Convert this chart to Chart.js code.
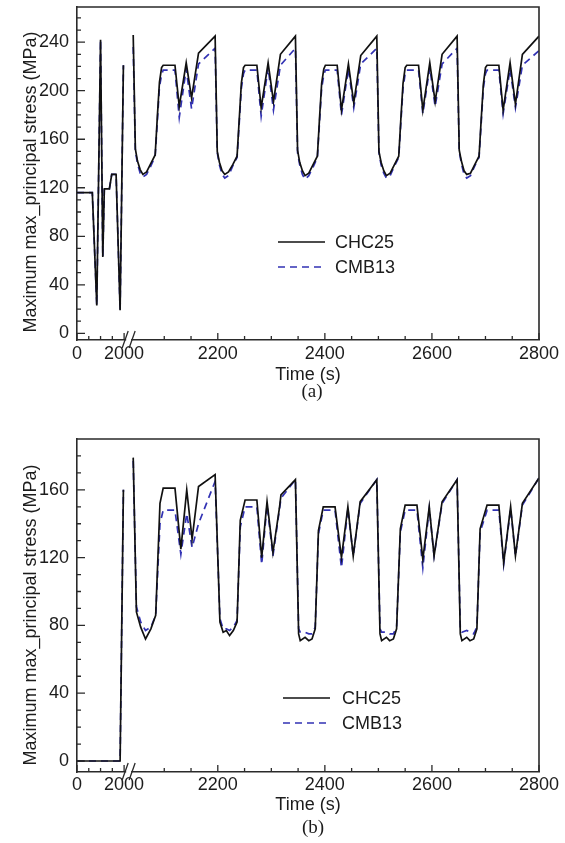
<!DOCTYPE html>
<html>
<head>
<meta charset="utf-8">
<script src="https://cdn.jsdelivr.net/npm/chart.js@4/dist/chart.umd.min.js"></script>
<style>
  body { margin: 0; background: #fff; width: 565px; height: 843px; overflow: hidden; position: relative; }
  canvas { position: absolute; left: 0; }
  #chartA { top: 0; }
  #chartB { top: 415px; }
</style>
</head>
<body>
<canvas id="chartA" width="565" height="410"></canvas>
<canvas id="chartB" width="565" height="428"></canvas>
<script>
// ---- data (times in s, stress in MPa) ----

// start-up phase, 0..2000 s, drawn compressed on the left of the axis break
const aStartupTimes = [0, 650, 840, 1000, 1095, 1160, 1375, 1475, 1660, 1830, 1970]
const aStartupCHC25 = [116, 116, 23, 242, 63, 119, 119, 131, 131, 19, 221]
const aStartupCMB13 = [116, 116, 23, 242, 63, 119, 119, 131, 131, 19, 221]

// cyclic part, panel (a)
const aCycleTimes = [
    2042, 2046, 2050, 2055, 2060, 2067, 2075, 2083, 2087, 2091, 2095, 2098, 2120, 2128, 2141, 2151, 2164,
    2195, 2199, 2203, 2208, 2213, 2220, 2228, 2236, 2240, 2244, 2248, 2251, 2273, 2281, 2294, 2304, 2317,
    2345, 2349, 2353, 2358, 2363, 2370, 2378, 2386, 2390, 2394, 2398, 2401, 2423, 2431, 2444, 2454, 2467,
    2497, 2501, 2505, 2510, 2515, 2522, 2530, 2538, 2542, 2546, 2550, 2553, 2575, 2583, 2596, 2606, 2619,
    2647, 2651, 2655, 2660, 2665, 2672, 2680, 2688, 2692, 2696, 2700, 2703, 2725, 2733, 2746, 2756, 2769,
    2800]
const aCHC25 = [
    246, 152, 142, 135, 131, 133, 140, 147, 178, 207, 219, 221, 221, 187, 223, 194, 231,
    245, 150, 141, 134, 131, 133, 139, 146, 176, 206, 219, 221, 221, 186, 223, 191, 230,
    245, 151, 141, 134, 130, 132, 139, 146, 177, 206, 218, 221, 221, 184, 222, 190, 229,
    245, 150, 141, 134, 130, 132, 139, 146, 177, 206, 219, 221, 221, 184, 223, 191, 230,
    245, 151, 142, 134, 131, 132, 139, 146, 176, 205, 219, 221, 221, 184, 223, 189, 230,
    245]
const aCMB13 = [
    236, 150, 140, 132, 129, 131, 138, 146, 174, 203, 213, 217, 217, 178, 218, 185, 222,
    235, 149, 139, 131, 128, 130, 138, 145, 173, 202, 214, 217, 217, 179, 219, 184, 221,
    235, 149, 139, 131, 127, 130, 137, 145, 174, 202, 213, 217, 217, 180, 218, 186, 222,
    235, 149, 139, 132, 128, 130, 138, 145, 174, 202, 214, 217, 217, 181, 219, 187, 222,
    235, 150, 140, 131, 128, 130, 138, 145, 173, 202, 214, 217, 217, 181, 218, 186, 221,
    233]

// panel (b)
const bStartupTimes = [0, 1830, 1970]
const bStartupCHC25 = [0, 0, 160]
const bStartupCMB13 = [0, 0, 160]

const bCycleTimes = [
    2042, 2048, 2056, 2065, 2075, 2084, 2092, 2098, 2120, 2131, 2142, 2152, 2164,
    2195, 2204, 2210, 2216, 2222, 2229, 2236, 2242, 2251, 2273, 2282, 2292, 2303, 2315, 2318,
    2345, 2351, 2354, 2363, 2370, 2376, 2382, 2388, 2397, 2419, 2431, 2443, 2453, 2466,
    2497, 2503, 2506, 2515, 2521, 2528, 2534, 2541, 2550, 2572, 2583, 2595, 2604, 2619,
    2647, 2653, 2656, 2665, 2671, 2678, 2684, 2690, 2703, 2725, 2734, 2747, 2756, 2769,
    2800]
const bCHC25 = [
    179, 88, 79, 72, 78, 86, 152, 161, 161, 125, 160, 131, 162,
    169, 82, 76, 77, 74, 77, 82, 142, 154, 154, 120, 153, 123, 149, 157,
    166, 75, 71, 73, 71, 72, 78, 136, 150, 150, 120, 150, 121, 153,
    166, 75, 71, 73, 71, 72, 78, 137, 151, 151, 119, 150, 121, 153,
    166, 75, 71, 73, 71, 72, 78, 137, 151, 151, 117, 150, 121, 152,
    167]
const bCMB13 = [
    177, 91, 82, 77, 79, 86, 140, 148, 148, 122, 146, 126, 140,
    165, 84, 78, 78, 77, 79, 83, 138, 150, 150, 116, 151, 121, 148, 155,
    166, 78, 76, 76, 75, 75, 79, 134, 148, 148, 114, 149, 121, 152,
    166, 78, 76, 76, 75, 75, 79, 135, 148, 148, 114, 149, 121, 152,
    166, 78, 76, 77, 76, 75, 79, 135, 148, 148, 116, 149, 121, 151,
    167]

// ticks
const xTickLabels = ["0", "2000", "2200", "2400", "2600", "2800"]
const xMinorStartup = [500, 1000, 1500]
const xMinorCycle = [2100, 2150, 2250, 2300, 2350, 2450, 2500, 2550, 2650, 2700, 2750]
const yTicksA = [0, 40, 80, 120, 160, 200, 240]
const yTicksB = [0, 40, 80, 120, 160]

// ---- broken axis ----
// The axis runs in cycle seconds; the 0..2000 s start-up is squeezed into AXIS_MIN..STARTUP_AXIS_END.
const AXIS_MIN = 1937
const AXIS_MAX = 2800
const STARTUP_END = 2000
const STARTUP_AXIS_END = 2025
const startupPos = t => AXIS_MIN + t / STARTUP_END * (STARTUP_AXIS_END - AXIS_MIN)

const xMajorPos = [startupPos(0), startupPos(2000), 2200, 2400, 2600, 2800]
const xMinorPos = xMinorStartup.map(startupPos).concat(xMinorCycle)

const FONT = "'Liberation Sans', Arial, sans-serif"
const TEXT = "#1c1c1c"
const AXIS = "#2a2a2a"

function buildSeries(startT, startV, cycT, cycV) {
    let pts = startT.map((t, i) => ({ x: startupPos(t), y: startV[i] }))
    // gap across the break
    pts.push({ x: (startupPos(startT[startT.length - 1]) + cycT[0]) / 2, y: null })
    cycT.forEach((t, i) => pts.push({ x: t, y: cycV[i] }))
    return pts
}

//Draws frame, inward ticks, axis break, legend, y title and caption.
const decorPlugin = {
    id: "decor",
    afterDraw(chart, args, o) {
        const { ctx, chartArea: a } = chart
        const x = chart.scales.x, y = chart.scales.y
        ctx.save()
        ctx.strokeStyle = AXIS
        ctx.lineWidth = 1.6
        ctx.beginPath()
        ctx.moveTo(a.left, a.top)
        ctx.lineTo(a.right, a.top)
        ctx.lineTo(a.right, a.bottom)
        ctx.stroke()

        ctx.lineWidth = 1.3
        ctx.beginPath()
        for (let v of xMajorPos) {
            let px = x.getPixelForValue(v)
            ctx.moveTo(px, a.bottom); ctx.lineTo(px, a.bottom - 7)
        }
        for (let v of xMinorPos) {
            let px = x.getPixelForValue(v)
            ctx.moveTo(px, a.bottom); ctx.lineTo(px, a.bottom - 4)
        }
        for (let v of o.yMajor) {
            let py = y.getPixelForValue(v)
            ctx.moveTo(a.left, py); ctx.lineTo(a.left + 8, py)
        }
        for (let v = 10; v < y.max; v += 10) {
            if (o.yMajor.includes(v)) continue
            let py = y.getPixelForValue(v)
            ctx.moveTo(a.left, py); ctx.lineTo(a.left + 4, py)
        }
        ctx.stroke()

        // axis break  //
        let b0 = x.getPixelForValue(2027), b1 = x.getPixelForValue(2040)
        ctx.fillStyle = "#fff"
        ctx.fillRect(b0 + 1, a.bottom - 2, b1 - b0 - 2, 4)
        ctx.beginPath()
        for (let bx of [b0, b1]) {
            ctx.moveTo(bx - 3, a.bottom + 8)
            ctx.lineTo(bx + 3, a.bottom - 9)
        }
        ctx.stroke()

        // legend
        const L = o.legend
        ctx.font = "18px " + FONT
        ctx.textBaseline = "middle"
        ctx.textAlign = "left"
        chart.data.datasets.forEach((ds, i) => {
            ctx.strokeStyle = ds.borderColor
            ctx.lineWidth = ds.borderWidth
            ctx.setLineDash(ds.borderDash || [])
            ctx.beginPath()
            ctx.moveTo(L.x0, L.ys[i]); ctx.lineTo(L.x1, L.ys[i])
            ctx.stroke()
            ctx.setLineDash([])
            ctx.fillStyle = TEXT
            ctx.fillText(ds.label, L.textX, L.ys[i] + 1)
        })

        // y title
        ctx.save()
        ctx.translate(o.yTitle.x, o.yTitle.y)
        ctx.rotate(-Math.PI / 2)
        ctx.textAlign = "center"
        ctx.textBaseline = "alphabetic"
        ctx.fillText("Maximum max_principal stress (MPa)", 0, 0)
        ctx.restore()

        // caption
        ctx.font = "19px 'Liberation Serif', 'Times New Roman', serif"
        ctx.textAlign = "center"
        ctx.textBaseline = "middle"
        ctx.fillText(o.caption.text, o.caption.x, o.caption.y)
        ctx.restore()
    }
}

function makeChart(id, p) {
    const ctx = document.getElementById(id).getContext("2d")
    return new Chart(ctx, {
        type: "line",
        data: {
            datasets: [
                { label: "CHC25", data: p.chc, borderColor: "#111111", borderWidth: 1.7, pointRadius: 0, tension: 0, spanGaps: false },
                { label: "CMB13", data: p.cmb, borderColor: "#3232b4", borderWidth: 1.7, borderDash: [7, 5], pointRadius: 0, tension: 0, spanGaps: false }
            ]
        },
        options: {
            responsive: false,
            animation: false,
            layout: { padding: { top: p.top, right: 26, left: 0, bottom: 0 } },
            scales: {
                x: {
                    type: "linear", min: AXIS_MIN, max: AXIS_MAX,
                    grid: { display: false, drawTicks: false },
                    border: { display: true, color: AXIS, width: 1.6 },
                    afterBuildTicks: ax => { ax.ticks = xMajorPos.map(v => ({ value: v })) },
                    afterFit: s => { s.height = p.xHeight; s.paddingLeft = 0; s.paddingRight = 0 },
                    ticks: {
                        autoSkip: false, maxRotation: 0, padding: p.xTickPad, color: TEXT,
                        font: { family: FONT, size: 18 },
                        callback: (v, i) => xTickLabels[i]
                    },
                    title: {
                        display: true, text: "Time (s)", color: TEXT,
                        font: { family: FONT, size: 18 },
                        padding: { top: 0, bottom: p.xTitlePad }
                    }
                },
                y: {
                    type: "linear", min: p.ymin, max: p.ymax,
                    grid: { display: false, drawTicks: false },
                    border: { display: true, color: AXIS, width: 1.6 },
                    afterBuildTicks: ax => { ax.ticks = p.yTicks.map(v => ({ value: v })) },
                    afterFit: s => { s.width = 77; s.paddingTop = 0; s.paddingBottom = 0 },
                    ticks: { padding: 8, color: TEXT, font: { family: FONT, size: 18 } }
                }
            },
            plugins: {
                legend: { display: false },
                tooltip: { enabled: false },
                decor: {
                    yMajor: p.yTicks,
                    legend: p.legend,
                    yTitle: p.yTitle,
                    caption: p.caption
                }
            }
        },
        plugins: [decorPlugin]
    })
}

makeChart("chartA", {
    chc: buildSeries(aStartupTimes, aStartupCHC25, aCycleTimes, aCHC25),
    cmb: buildSeries(aStartupTimes, aStartupCMB13, aCycleTimes, aCMB13),
    top: 7, xHeight: 70, xTickPad: 3, xTitlePad: 24,
    ymin: -5.5, ymax: 269, yTicks: yTicksA,
    legend: { x0: 278, x1: 325, textX: 335, ys: [242, 267] },
    yTitle: { x: 36, y: 182 },
    caption: { text: "(a)", x: 312, y: 392 }
})

makeChart("chartB", {
    chc: buildSeries(bStartupTimes, bStartupCHC25, bCycleTimes, bCHC25),
    cmb: buildSeries(bStartupTimes, bStartupCMB13, bCycleTimes, bCMB13),
    top: 24, xHeight: 71, xTickPad: 2, xTitlePad: 27,
    ymin: -6.5, ymax: 190, yTicks: yTicksB,
    legend: { x0: 283, x1: 330, textX: 342, ys: [283, 308] },
    yTitle: { x: 36, y: 200 },
    caption: { text: "(b)", x: 313, y: 413 }
})
</script>
</body>
</html>
